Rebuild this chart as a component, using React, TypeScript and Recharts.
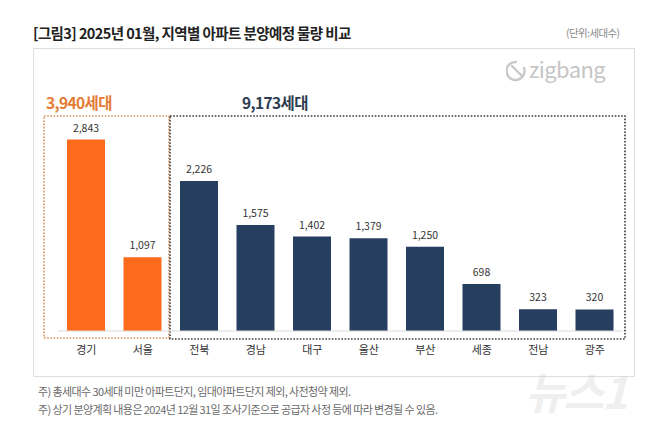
import React from 'react';
import { BarChart, Bar, XAxis, YAxis, Cell, LabelList } from 'recharts';

const regions = ['경기', '서울', '전북', '경남', '대구', '울산', '부산', '세종', '전남', '광주'];
const units = [2843, 1097, 2226, 1575, 1402, 1379, 1250, 698, 323, 320];
const capitalArea = ['경기', '서울'];
const groupTotals = ['3,940세대', '9,173세대'];
const notes = [
  '주) 총세대수 30세대 미만 아파트단지, 임대아파트단지 제외, 사전청약 제외.',
  '주) 상기 분양계획 내용은 2024년 12월 31일  조사기준으로 공급자 사정 등에 따라 변경될 수 있음.',
];

const ORANGE = '#fc6a1c';
const NAVY = '#263e60';
const FONT = '"Noto Sans CJK KR", "Noto Sans", sans-serif';

const data = regions.map((r, i) => ({ region: r, value: units[i] }));

export default function App() {
  return (
    <div style={{ position: 'absolute', left: 0, top: 0, width: 649, height: 432, background: '#fff', fontFamily: FONT }}>
      <div style={{ position: 'absolute', left: 33, top: 22, fontSize: 14.5, fontWeight: 700, letterSpacing: -0.6, color: '#222', whiteSpace: 'nowrap' }}>
        [그림3] 2025년 01월, 지역별 아파트 분양예정 물량 비교
      </div>
      <div style={{ position: 'absolute', left: 566, top: 25, fontSize: 10.5, color: '#8a8a8a', letterSpacing: -0.6, whiteSpace: 'nowrap' }}>
        (단위:세대수)
      </div>
      <div style={{ position: 'absolute', left: 33, top: 48, width: 600, height: 327, border: '1px solid #dedede' }} />

      {/* zigbang logo */}
      <svg style={{ position: 'absolute', left: 506, top: 58 }} width={24} height={24}>
        <path d="M10 4 a9 9 0 1 0 8 6" fill="none" stroke="#c9c9c9" strokeWidth={2.4} strokeLinecap="round" />
        <path d="M6 8 l10 10" fill="none" stroke="#c9c9c9" strokeWidth={2.4} strokeLinecap="round" />
      </svg>
      <div style={{ position: 'absolute', left: 529, top: 53, fontSize: 22, lineHeight: '30px', color: '#c6c6c6', letterSpacing: -0.6, whiteSpace: 'nowrap' }}>
        zigbang
      </div>

      <div style={{ position: 'absolute', left: 46, top: 91, fontSize: 15.5, fontWeight: 700, color: '#e57b36', letterSpacing: -0.6, whiteSpace: 'nowrap' }}>
        {groupTotals[0]}
      </div>
      <div style={{ position: 'absolute', left: 242, top: 91, fontSize: 15.5, fontWeight: 700, color: '#2d3d52', letterSpacing: -0.6, whiteSpace: 'nowrap' }}>
        {groupTotals[1]}
      </div>

      {/* dotted group frames */}
      <svg style={{ position: 'absolute', left: 0, top: 0 }} width={649} height={432}>
        <rect x={44} y={116} width={125} height={222} fill="none" stroke="#d8925a" strokeWidth={1.6} strokeDasharray="1.6 1.6" />
        <rect x={170} y={116} width={455} height={223} fill="none" stroke="#3a3a3a" strokeWidth={1.6} strokeDasharray="1.6 1.6" />
      </svg>

      <div style={{ position: 'absolute', left: 0, top: 0 }}>
        <BarChart width={649} height={432} data={data} margin={{ top: 129, right: 26, left: 58, bottom: 71 }}>
          <XAxis
            dataKey="region"
            tickLine={false}
            axisLine={{ stroke: '#d9d9d9' }}
            tickMargin={9}
            interval={0}
            height={30}
            tick={{ fontSize: 11, fill: '#333', fontFamily: FONT }}
          />
          <YAxis hide domain={[0, 3000]} />
          <Bar dataKey="value" barSize={38} isAnimationActive={false}>
            {data.map((d) => (
              <Cell key={d.region} fill={capitalArea.includes(d.region) ? ORANGE : NAVY} />
            ))}
            <LabelList
              dataKey="value"
              position="top"
              offset={8}
              formatter={(v: any) => Number(v).toLocaleString('en-US')}
              style={{ fontSize: 10.5, fill: '#333', fontFamily: FONT }}
            />
          </Bar>
        </BarChart>
      </div>

      {notes.map((n, i) => (
        <div key={i} style={{ position: 'absolute', left: 38, top: 383 + i * 18, fontSize: 11, color: '#6a6a6a', letterSpacing: -0.6, whiteSpace: 'nowrap' }}>
          {n}
        </div>
      ))}

      <div style={{ position: 'absolute', left: 525, top: 358, fontSize: 44, fontStyle: 'italic', fontWeight: 700, color: 'rgba(200,200,200,0.3)', letterSpacing: -2, whiteSpace: 'nowrap' }}>
        뉴스1
      </div>
    </div>
  );
}
